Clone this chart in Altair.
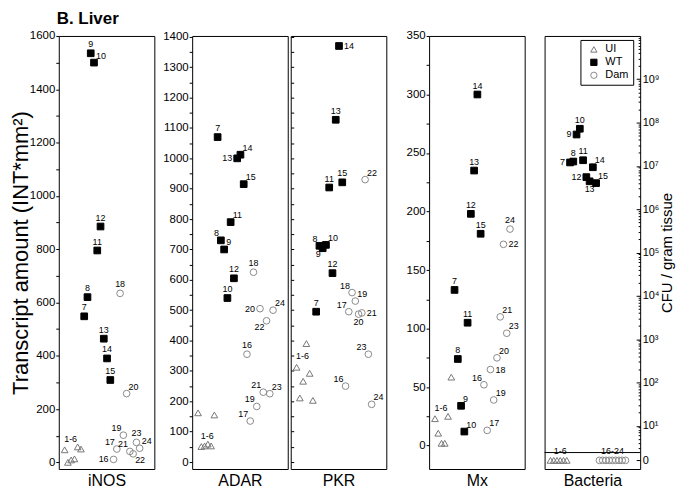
import altair as alt
import numpy as np
import pandas as pd

SAMPLES = list(range(1, 25))
GROUP_NAMES = ["UI", "WT", "Dam"]
GROUPS = ["UI"] * 6 + ["WT"] * 9 + ["Dam"] * 9

# Transcript amounts (INT*mm^2) for samples 1..24
INOS = [47, 0, 9, 13, 58, 50, 548, 620, 1535, 1500, 795, 885, 464, 390, 309,
        11, 50, 634, 102, 258, 41, 32, 75, 53]
ADAR = [162, 51, 53, 59, 53, 155, 1070, 730, 700, 540, 790, 605, 1000, 1012, 915,
        355, 135, 625, 183, 505, 230, 465, 225, 500]
PKR = [312, 211, 266, 390, 292, 203, 495, 712, 704, 715, 904, 622, 1127, 1370, 921,
       250, 495, 558, 530, 487, 491, 930, 355, 190]
MX = [23, 10.6, 2, 2, 25, 58.5, 133, 74, 34, 12, 105, 198, 235, 300, 181,
      52, 13, 65, 39, 75, 110, 172, 96, 185]
# Bacteria, CFU / gram tissue (0 = none recovered)
BACTERIA = [0, 0, 0, 0, 0, 0, 1.2e7, 1.26e7, 5.3e7, 7.2e7, 1.35e7, 5.5e6, 4.4e6, 9.3e6, 4.0e6,
            0, 0, 0, 0, 0, 0, 0, 0, 0]

# label placement per sample ('' = no label)
INOS_POS = ["g", "", "", "", "", "", "t", "t", "t", "tr", "t", "t", "t", "t", "t",
            "l", "tl", "t", "tl", "tr", "tl", "br", "t", "tr"]
ADAR_POS = ["", "g", "", "", "", "", "t", "tl", "tr", "t", "tr", "t", "l", "tr", "tr",
            "t", "tl", "t", "tl", "l", "tl", "bl", "tr", "tr"]
PKR_POS = ["g", "", "", "", "", "", "t", "tl", "bl", "tr", "t", "t", "t", "r", "t",
           "tl", "tl", "tl", "tr", "b", "r", "tr", "tl", "tr"]
MX_POS = ["g", "", "", "", "", "", "t", "t", "tr", "tr", "t", "t", "t", "t", "t",
          "tl", "tr", "r", "tr", "tr", "tr", "r", "tr", "t"]
BACT_POS = ["", "", "", "t", "", "", "l", "t", "l", "t", "t", "l", "b", "tr", "tr",
            "", "", "", "", "t", "", "", "", ""]

FONT = "Liberation Sans"
W, H = 96, 435
X_DOMAIN = [-0.8, 28.5]
ZERO_ROW = 0.2        # position (log units) of the "0" row in the bacteria panel
ZERO_BAND_TOP = 0.38  # separator between "0" row and log scale

OFFSETS = {
    "t": dict(align="center", baseline="bottom", dx=0, dy=-4),
    "b": dict(align="center", baseline="top", dx=0, dy=4),
    "l": dict(align="right", baseline="middle", dx=-5, dy=0),
    "r": dict(align="left", baseline="middle", dx=5, dy=0),
    "tl": dict(align="right", baseline="bottom", dx=-2, dy=-2),
    "tr": dict(align="left", baseline="bottom", dx=2, dy=-2),
    "bl": dict(align="right", baseline="top", dx=-2, dy=2),
    "br": dict(align="left", baseline="top", dx=2, dy=2),
    "g": dict(align="center", baseline="bottom", dx=6, dy=-6),
}

LEGEND = alt.Legend(title=None, orient="none", legendX=524, legendY=4, direction="vertical",
                    strokeColor="black", fillColor="white", padding=4, symbolOffset=4,
                    labelFont=FONT, labelFontSize=11, labelColor="black", symbolSize=40,
                    symbolStrokeWidth=1, rowPadding=1, labelOffset=6)
SHAPE = alt.Shape("grp:N", scale=alt.Scale(domain=GROUP_NAMES, range=["triangle-up", "square", "circle"]), legend=LEGEND)
FILL = alt.Fill("grp:N", scale=alt.Scale(domain=GROUP_NAMES, range=["transparent", "black", "transparent"]), legend=LEGEND)
STROKE = alt.Stroke("grp:N", scale=alt.Scale(domain=GROUP_NAMES, range=["#777777", "black", "#8a8a8a"]), legend=LEGEND)


def panel_df(values, pos, group_labels):
    labels = ["" if p == "" else group_labels.get(g, str(n)) for n, g, p in zip(SAMPLES, GROUPS, pos)]
    return pd.DataFrame({"n": SAMPLES, "value": values, "grp": GROUPS, "pos": pos, "label": labels})


def x_enc(name):
    return alt.X("n:Q", scale=alt.Scale(domain=X_DOMAIN, nice=False, zero=False),
                 axis=alt.Axis(title=name, labels=False, ticks=False, domain=False, grid=False,
                               titleFont=FONT, titleFontSize=16, titleFontWeight="normal",
                               titlePadding=4, titleColor="black"))


def layers_for(df, name, y_point, y_text):
    base = alt.Chart(df)
    x = x_enc(name)
    out = [base.mark_point(size=45, strokeWidth=1, opacity=1).encode(
        x=x, y=y_point, shape=SHAPE, fill=FILL, stroke=STROKE)]
    for code, style in OFFSETS.items():
        if code in set(df["pos"]):
            out.append(base.transform_filter(alt.datum.pos == code).mark_text(
                font=FONT, fontSize=9, color="black", **style).encode(x=x, y=y_text, text="label:N"))
    return out


def std_panel(values, pos, name, domain, axis):
    df = panel_df(values, pos, {"UI": "1-6"})
    y = alt.Y("value:Q", scale=alt.Scale(domain=domain, nice=False, zero=False), axis=axis)
    return alt.layer(*layers_for(df, name, y, y)).properties(width=W, height=H)


AX_COMMON = dict(domain=False, grid=False, labelFont=FONT, labelFontSize=11.5, labelColor="black",
                 tickColor="black", format="d", labelOverlap=False)

inos_axis = alt.Axis(values=list(range(0, 1601, 100)),
                     labelExpr="datum.value % 200 === 0 ? datum.label : ''",
                     tickSize=3, labelPadding=1, title="Transcript amount (INT*mm²)",
                     titleFont=FONT, titleFontSize=22, titleFontWeight="normal", titleColor="black",
                     titlePadding=-3, **AX_COMMON)
adar_axis = alt.Axis(values=list(range(0, 1401, 50)),
                     labelExpr="datum.value % 100 === 0 ? datum.label : ''",
                     tickSize=3, labelPadding=1, title=None, minExtent=36, maxExtent=36, **AX_COMMON)
pkr_axis = alt.Axis(values=list(range(0, 1401, 50)), labels=False, tickSize=3, offset=-3,
                    title=None, minExtent=4, maxExtent=4, **AX_COMMON)
mx_axis = alt.Axis(values=list(range(0, 351, 25)),
                   labelExpr="datum.value % 50 === 0 ? datum.label : ''",
                   tickSize=3, labelPadding=1, title=None, minExtent=41, maxExtent=41, **AX_COMMON)

inos = std_panel(INOS, INOS_POS, "iNOS", [-25, 1600], inos_axis)
adar = std_panel(ADAR, ADAR_POS, "ADAR", [-23, 1403], adar_axis)
pkr = std_panel(PKR, PKR_POS, "PKR", [-23, 1403], pkr_axis)
mx = std_panel(MX, MX_POS, "Mx", [-20, 350], mx_axis)

# Bacteria panel (log10 CFU, zero row at the bottom)
bact_log = [np.log10(v) if v > 0 else ZERO_ROW for v in BACTERIA]
bdf = panel_df(bact_log, BACT_POS, {"UI": "1-6", "Dam": "16-24"})
bscale = alt.Scale(domain=[0, 10], nice=False, zero=False)
SUPS = "['⁰','¹','²','³','⁴','⁵','⁶','⁷','⁸','⁹']"
major_axis = alt.Axis(orient="right", values=[ZERO_ROW] + list(range(1, 10)),
                      labelExpr=f"datum.value < 0.5 ? '0' : '10' + {SUPS}[round(datum.value)]",
                      tickSize=4, offset=-4, labelPadding=2, domain=False, grid=False,
                      labelFont=FONT, labelFontSize=11, labelColor="black", tickColor="black",
                      labelOverlap=False, title="CFU / gram tissue", titleFont=FONT,
                      titleFontSize=15, titleFontWeight="normal", titleColor="black",
                      titleAngle=270, titleBaseline="top", titlePadding=1)
MINOR = [float(np.log10(k) + d) for d in range(0, 10) for k in range(2, 10)
         if ZERO_BAND_TOP < np.log10(k) + d < 10]
minor_axis = alt.Axis(orient="right", values=MINOR, labels=False, tickSize=2, offset=-2,
                      domain=False, grid=False, tickColor="black", title=None)

b_point_y = alt.Y("value:Q", scale=bscale, axis=major_axis)
b_text_y = alt.Y("value:Q", scale=bscale, axis=None)
blayers = layers_for(bdf, "Bacteria", b_point_y, b_text_y)
sep = alt.Chart(pd.DataFrame({"value": [ZERO_BAND_TOP]})).mark_rule(color="black", strokeWidth=1).encode(
    y=alt.Y("value:Q", scale=bscale, axis=minor_axis))
bact = alt.layer(*blayers, sep).resolve_axis(y="independent").properties(width=W, height=H)

chart = alt.hconcat(alt.hconcat(inos, adar, pkr, mx, spacing=0), bact, spacing=18).properties(
    title=alt.TitleParams("B. Liver", anchor="start", fontSize=17, fontWeight="bold", font=FONT,
                          color="black", offset=2, dx=48),
    padding={"left": 0, "top": 0, "right": 0, "bottom": 0},
).configure_view(stroke="black", strokeWidth=1).configure_axis(grid=False)

chart.save("out.html", embed_options={"renderer": "svg", "actions": False})
